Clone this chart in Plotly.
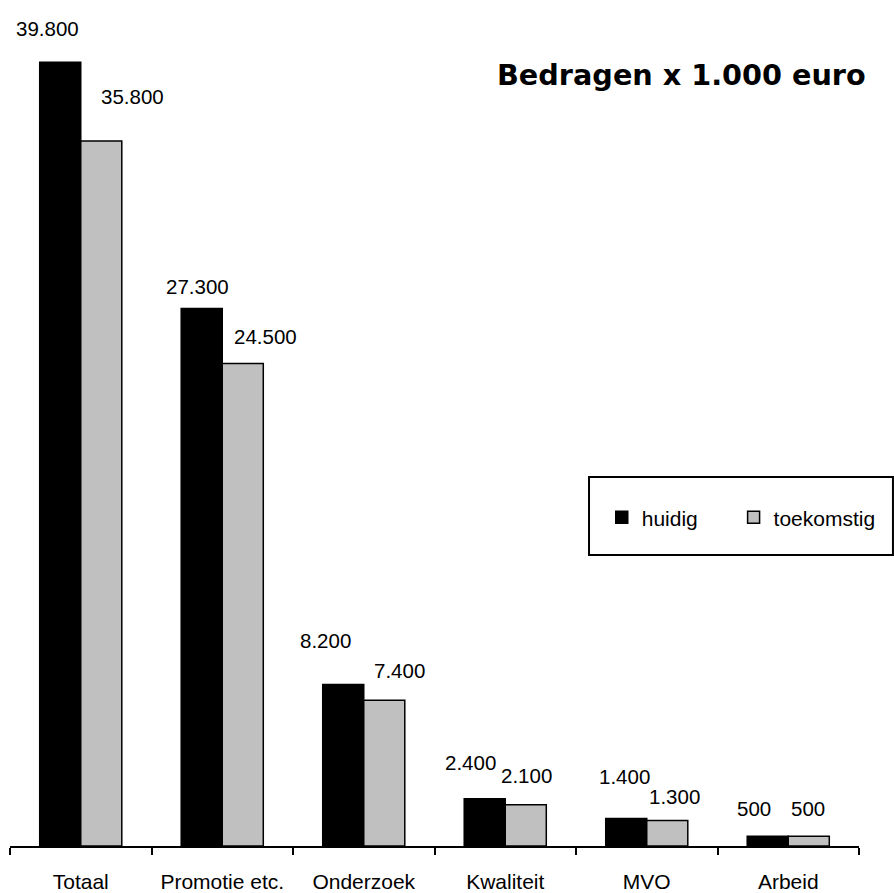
import plotly.graph_objects as go

categories = ["Totaal", "Promotie etc.", "Onderzoek", "Kwaliteit", "MVO", "Arbeid"]
huidig = [39800, 27300, 8200, 2400, 1400, 500]
toekomstig = [35800, 24500, 7400, 2100, 1300, 500]
series_names = ["huidig", "toekomstig"]
title_text = "Bedragen x 1.000 euro"

# label placement offsets (px) relative to category centre / bar top
huidig_xshift = [-33, -25, -38.5, -34.5, -22, -34]
huidig_yshift = [34, 22, 44, 36, 42, 28]
toek_xshift = [51.5, 43, 35.5, 21.5, 28, 20]
toek_yshift = [45, 27, 30, 29, 24, 28]

FONT = "Liberation Sans"


def fmt(v):
    return f"{v:,}".replace(",", ".")


fig = go.Figure()
fig.add_trace(go.Bar(name=series_names[0], x=categories, y=huidig, legend="legend",
                     marker=dict(color="#000000", line=dict(color="#000000", width=1.5))))
fig.add_trace(go.Bar(name=series_names[1], x=categories, y=toekomstig, legend="legend2",
                     marker=dict(color="#C0C0C0", line=dict(color="#000000", width=1.5))))

annotations = []
for i, c in enumerate(categories):
    annotations.append(dict(x=c, y=huidig[i], xref="x", yref="y", text=fmt(huidig[i]),
                            showarrow=False, xanchor="center", yanchor="middle",
                            xshift=huidig_xshift[i], yshift=huidig_yshift[i],
                            font=dict(family=FONT, size=20.5, color="#000000")))
    annotations.append(dict(x=c, y=toekomstig[i], xref="x", yref="y", text=fmt(toekomstig[i]),
                            showarrow=False, xanchor="center", yanchor="middle",
                            xshift=toek_xshift[i], yshift=toek_yshift[i],
                            font=dict(family=FONT, size=20.5, color="#000000")))
annotations.append(dict(x=1.0106, y=0.9323, xref="paper", yref="paper", text=title_text,
                        showarrow=False, xanchor="right", yanchor="middle",
                        font=dict(family="DejaVu Sans", size=28.7, color="#000000", weight="bold")))

legend_style = dict(orientation="h", y=0.397, xanchor="left", yanchor="middle",
                    bgcolor="rgba(0,0,0,0)", borderwidth=0,
                    font=dict(family=FONT, size=21, color="#000000"), itemwidth=30)

fig.update_layout(
    width=894, height=893,
    margin=dict(l=10, r=35, t=19, b=47),
    paper_bgcolor="white", plot_bgcolor="white",
    barmode="group", bargap=0.42, bargroupgap=0,
    font=dict(family=FONT, size=21, color="#000000"),
    showlegend=True,
    legend=dict(x=0.697, **legend_style),
    legend2=dict(x=0.8523, **legend_style),
    annotations=annotations,
    shapes=[dict(type="rect", xref="paper", yref="paper",
                 x0=0.682, x1=1.040, y0=0.3519, y1=0.4462,
                 line=dict(color="#000000", width=2), fillcolor="rgba(0,0,0,0)")],
    xaxis=dict(showline=True, linecolor="#000000", linewidth=1.5,
               ticks="outside", ticklen=7, tickwidth=1.5, tickcolor="#000000",
               tickson="boundaries", showgrid=False, zeroline=False, automargin=False,
               tickfont=dict(family=FONT, size=21, color="#000000"),
               ticklabelstandoff=16),
    yaxis=dict(visible=False, range=[0, 42000], showgrid=False, zeroline=False,
               automargin=False),
)

fig.write_html("out.html", config={"displayModeBar": False},
               post_script="document.body.style.margin='0';document.body.style.padding='0';")
